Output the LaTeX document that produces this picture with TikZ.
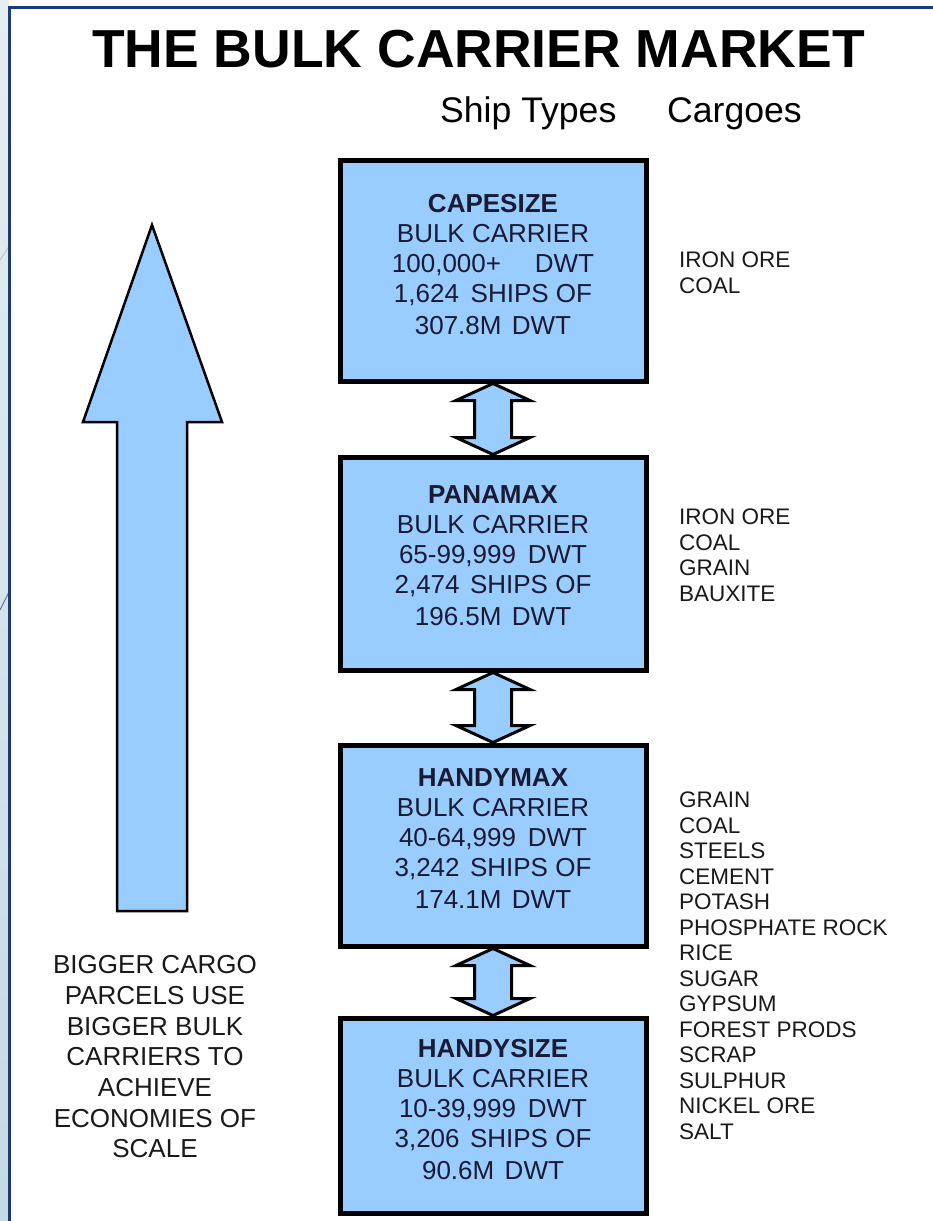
\documentclass[tikz,border=0pt]{standalone}
\usepackage{fontspec}
\setmainfont{Liberation Sans}
\usetikzlibrary{calc}
\definecolor{boxblue}{HTML}{99CCFF}
\definecolor{frameblue}{HTML}{1F3A7A}
\definecolor{boxtext}{HTML}{1A1A33}
\definecolor{stripA}{HTML}{E6EDF1}
\definecolor{stripB}{HTML}{C4DAE4}
\tikzset{
  shipbox/.style={rectangle, draw=black, line width=5pt, fill=boxblue, minimum width=306pt, inner sep=0pt},
  boxlabel/.style={anchor=north, align=center, inner sep=0pt, text=boxtext, font=\fontsize{26}{30}\selectfont},
  cargo/.style={anchor=north west, align=left, inner sep=0pt, text=black!90, font=\fontsize{22.5}{25.5}\selectfont},
  dbl/.style={draw=black, line width=3pt, fill=boxblue, line join=miter},
  bigarrow/.style={draw=black, line width=2.5pt, fill=boxblue, line join=miter},
  headtxt/.style={anchor=base west, inner sep=0pt, font=\fontsize{35.6}{40}\selectfont},
}
\newcommand\dblarrow[2]{%
  \draw[dbl] (#1) -- ++(37,17) -- ++(-18.5,0) -- ($(#2)+(18.5,-17)$) -- ++(18.5,0)
    -- (#2) -- ++(-37,-17) -- ++(18.5,0) -- ($(#1)+(-18.5,17)$) -- ++(-18.5,0) -- cycle;}
\begin{document}
\begin{tikzpicture}[x=1pt,y=-1pt]
\useasboundingbox (0,0) rectangle (933,1221);
\fill[white] (0,0) rectangle (933,1221);
% slide background strip and frame
\shade[top color=stripA, bottom color=stripB] (0,0) rectangle (8.5,1221);
\draw[black!25, line width=0.8pt] (0,260) -- (8.5,247);
\draw[frameblue!70, line width=1pt] (0,610) -- (8.5,593);
\draw[frameblue, line width=3pt] (9.5,1221) -- (9.5,7) -- (933,7);

% title
\node[anchor=base, inner sep=0pt, font=\bfseries\fontsize{53.5}{60}\selectfont] (title) at (478.5,67) {THE BULK CARRIER MARKET};
\node[headtxt] (shiptypes) at (440,122) {Ship Types};
\node[headtxt] (cargoes) at (667,122) {Cargoes};

% ship boxes
\node[shipbox, minimum height=221pt, anchor=north west] (b1) at (337.5,157.5) {};
\node[shipbox, minimum height=213pt, anchor=north west] (b2) at (337.5,454.5) {};
\node[shipbox, minimum height=201pt, anchor=north west] (b3) at (337.5,742.5) {};
\node[shipbox, minimum height=195pt, anchor=north west] (b4) at (337.5,1015.5) {};

\node[boxlabel] (t1) at ($(b1.center)+(0,-76.8)$) {\textbf{CAPESIZE}\\BULK CARRIER\\100,000+\hspace{1.3em}DWT\\1,624\hspace{0.45em}SHIPS OF\\[2pt]307.8M\hspace{0.4em}DWT};
\node[boxlabel] (t2) at ($(b2.center)+(0,-77.6)$) {\textbf{PANAMAX}\\BULK CARRIER\\65-99,999\hspace{0.45em}DWT\\2,474\hspace{0.4em}SHIPS OF\\[2pt]196.5M\hspace{0.4em}DWT};
\node[boxlabel] (t3) at ($(b3.center)+(0,-76.8)$) {\textbf{HANDYMAX}\\BULK CARRIER\\40-64,999\hspace{0.45em}DWT\\3,242\hspace{0.4em}SHIPS OF\\[2pt]174.1M\hspace{0.4em}DWT};
\node[boxlabel] (t4) at ($(b4.center)+(0,-76.8)$) {\textbf{HANDYSIZE}\\BULK CARRIER\\10-39,999\hspace{0.45em}DWT\\3,206\hspace{0.4em}SHIPS OF\\[2pt]90.6M\hspace{0.4em}DWT};

% double arrows between boxes
\dblarrow{b1.south}{b2.north}
\dblarrow{b2.south}{b3.north}
\dblarrow{b3.south}{b4.north}

% cargo lists
\node[cargo] (c1) at (679,251.7) {IRON ORE\\COAL};
\node[cargo] (c2) at (679,508.7) {IRON ORE\\COAL\\GRAIN\\BAUXITE};
\node[cargo] (c3) at (679,791.7) {GRAIN\\COAL\\STEELS\\CEMENT\\POTASH\\PHOSPHATE ROCK\\RICE\\SUGAR\\GYPSUM\\FOREST PRODS\\SCRAP\\SULPHUR\\NICKEL ORE\\SALT};

% big upward arrow
\draw[bigarrow] (152,225) -- (222,422) -- (187,422) -- (187,911) -- (117,911) -- (117,422) -- (83,422) -- cycle;

% explanation
\node[anchor=north, align=center, inner sep=0pt, text=black!90, font=\fontsize{26}{30.67}\selectfont] (expl) at (155,955.4)
  {BIGGER CARGO\\PARCELS USE\\BIGGER BULK\\CARRIERS TO\\ACHIEVE\\ECONOMIES OF\\SCALE};
\end{tikzpicture}
\end{document}
